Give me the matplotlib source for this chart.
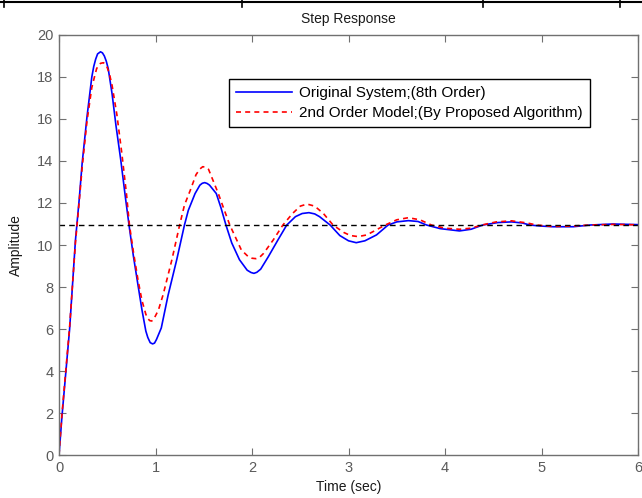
import matplotlib
matplotlib.use("Agg")
import matplotlib.pyplot as plt
from matplotlib.lines import Line2D

# ---- data ----
t_orig = [0, 0.03, 0.07, 0.11, 0.14, 0.17, 0.21, 0.24, 0.29, 0.34, 0.36, 0.38, 0.40, 0.43,
          0.45, 0.47, 0.49, 0.51, 0.55, 0.59, 0.64, 0.69, 0.73, 0.77, 0.82, 0.86, 0.90, 0.92,
          0.945, 0.97, 0.99, 1.01, 1.06, 1.13, 1.22, 1.30, 1.34, 1.41, 1.46, 1.485, 1.51, 1.535,
          1.56, 1.63, 1.68, 1.73, 1.79, 1.87, 1.95, 1.99, 2.02, 2.05, 2.09, 2.17, 2.27, 2.36,
          2.45, 2.52, 2.59, 2.65, 2.70, 2.81, 2.91, 3.00, 3.08, 3.17, 3.29, 3.41, 3.50, 3.62,
          3.72, 3.81, 3.95, 4.15, 4.27, 4.39, 4.55, 4.69, 4.80, 4.88, 5.00, 5.12, 5.33, 5.50,
          5.74, 6.0]
y_orig = [0, 1.8, 3.9, 6.0, 8.1, 10.2, 12.2, 13.9, 16.1, 18.0, 18.5, 18.85, 19.1, 19.2,
          19.15, 19.0, 18.75, 18.4, 17.2, 15.7, 14.05, 12.2, 10.8, 9.5, 8.05, 6.9, 5.9, 5.6,
          5.35, 5.29, 5.33, 5.5, 6.05, 7.6, 9.3, 10.95, 11.65, 12.45, 12.85, 12.94, 12.97, 12.93,
          12.85, 12.45, 11.75, 10.95, 10.1, 9.3, 8.8, 8.69, 8.65, 8.7, 8.85, 9.45, 10.25, 10.95,
          11.35, 11.5, 11.54, 11.48, 11.35, 10.95, 10.45, 10.2, 10.11, 10.2, 10.48, 10.95, 11.1, 11.16,
          11.12, 10.95, 10.78, 10.67, 10.75, 10.95, 11.07, 11.1, 11.05, 10.95, 10.9, 10.87, 10.87, 10.95,
          11.0, 10.97]

t_model = [0, 0.03, 0.07, 0.11, 0.14, 0.17, 0.21, 0.24, 0.29, 0.34, 0.37, 0.39, 0.41, 0.43,
           0.46, 0.48, 0.50, 0.525, 0.55, 0.60, 0.65, 0.70, 0.73, 0.77, 0.82, 0.86, 0.90, 0.92,
           0.94, 0.96, 0.98, 1.03, 1.08, 1.17, 1.25, 1.30, 1.36, 1.42, 1.46, 1.49, 1.52, 1.55,
           1.65, 1.71, 1.77, 1.89, 1.96, 2.00, 2.04, 2.08, 2.12, 2.22, 2.32, 2.42, 2.50, 2.57,
           2.65, 2.74, 2.84, 2.95, 3.02, 3.10, 3.19, 3.28, 3.38, 3.50, 3.62, 3.74, 3.86, 4.00,
           4.15, 4.27, 4.38, 4.53, 4.69, 4.85, 4.95, 5.12, 5.30, 5.50, 5.75, 6.0]
y_model = [0, 1.9, 4.0, 6.1, 8.1, 10.1, 12.1, 13.7, 15.9, 17.5, 18.05, 18.4, 18.55, 18.65,
           18.68, 18.62, 18.45, 18.1, 17.6, 16.2, 14.4, 12.4, 10.95, 9.7, 8.3, 7.35, 6.7, 6.5,
           6.4, 6.38, 6.45, 6.9, 7.65, 9.3, 10.95, 11.9, 12.6, 13.35, 13.62, 13.73, 13.7, 13.6,
           12.46, 11.7, 10.95, 9.76, 9.45, 9.37, 9.35, 9.42, 9.6, 10.24, 10.95, 11.5, 11.85, 11.95,
           11.85, 11.5, 10.95, 10.6, 10.45, 10.4, 10.48, 10.7, 10.95, 11.2, 11.3, 11.2, 10.95, 10.8,
           10.75, 10.8, 10.95, 11.1, 11.15, 11.05, 10.95, 10.88, 10.9, 10.95, 10.98, 10.96]

steady_state = 10.95
x_ticks = [0, 1, 2, 3, 4, 5, 6]
y_ticks = [0, 2, 4, 6, 8, 10, 12, 14, 16, 18, 20]
label_orig = "Original System;(8th Order)"
label_model = "2nd Order Model;(By Proposed Algorithm)"

plt.rcParams['font.family'] = ['Liberation Sans', 'DejaVu Sans']

W, H = 642, 498
fig = plt.figure(figsize=(W / 100, H / 100), dpi=100)
fig.patch.set_facecolor('white')
ax = fig.add_axes([59 / W, 1 - 455 / H, (638 - 59) / W, (455 - 35) / H])

ax.plot(t_orig, y_orig, color='#0000ff', lw=1.2, label=label_orig)
ax.plot(t_model, y_model, color='#ff0000', lw=1.2, ls=(0, (3, 2.5)), label=label_model)
ax.axhline(steady_state, color='black', lw=1.0, ls=(0, (4, 3)))

ax.set_xlim(0, 6)
ax.set_ylim(0, 20)
ax.set_xticks(x_ticks)
ax.set_yticks(y_ticks)
ax.tick_params(direction='in', top=True, right=True, length=5, width=0.8,
               colors='#707070', labelcolor='#5a5a5a', labelsize=10.5, pad=4)
for s in ax.spines.values():
    s.set_color('#707070')
    s.set_linewidth(1.0)

ax.set_title("Step Response", fontsize=10, color='#1a1a1a', pad=9)
ax.set_xlabel("Time (sec)", fontsize=10, color='#1a1a1a', labelpad=4)
ax.set_ylabel("Amplitude", fontsize=10, color='#1a1a1a', labelpad=10)

leg = ax.legend(loc='upper left', bbox_to_anchor=((229 - 59) / 579, (455 - 79) / 420),
                borderaxespad=0, fontsize=11, handlelength=3.7, handletextpad=0.45,
                labelspacing=0.4, fancybox=False, framealpha=1, borderpad=0.45)
leg.get_frame().set_edgecolor('black')
leg.get_frame().set_linewidth(1.0)

# table border decoration at the very top of the image
y_top = 1 - 2.5 / H
fig.add_artist(Line2D([0, 1], [y_top, y_top], transform=fig.transFigure,
                      color='black', lw=1.5))
for xp in [4, 242, 483, 620]:
    fig.add_artist(Line2D([xp / W, xp / W], [1, 1 - 7 / H], transform=fig.transFigure,
                          color='black', lw=1.2))

fig.savefig("out.png", dpi=100)
